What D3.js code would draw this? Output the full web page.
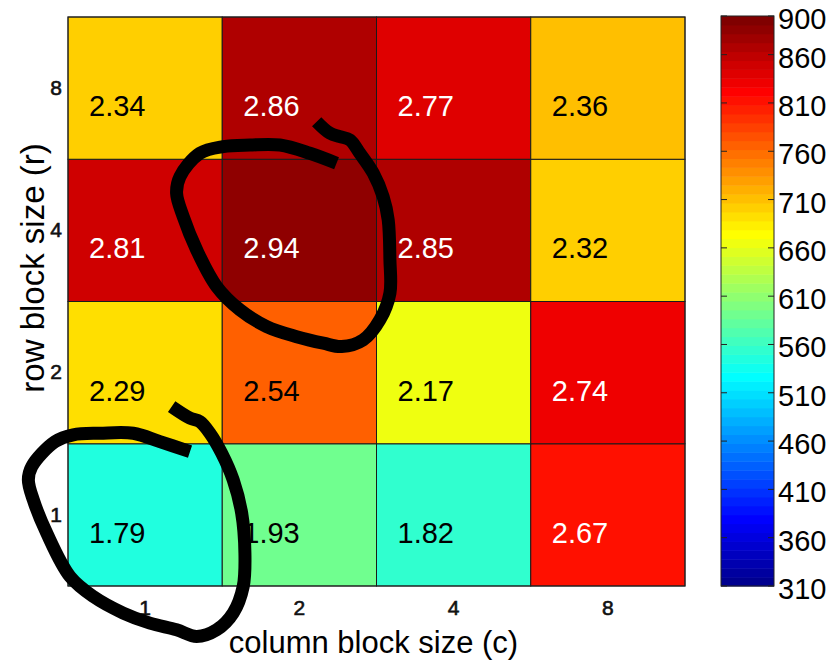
<!DOCTYPE html>
<html>
<head>
<meta charset="utf-8">
<script src="https://cdn.jsdelivr.net/npm/d3@7"></script>
<style>
  body { margin: 0; background: #fff; }
  svg { display: block; font-family: "Liberation Sans", Arial, sans-serif; }
</style>
</head>
<body>
<div id="chart"></div>
<script>
// data
const colSizes = ["1", "2", "4", "8"];
const rowSizes = ["1", "2", "4", "8"];

// speedup printed in each cell, one array per row block size
const speedR1 = [1.79, 1.93, 1.82, 2.67];
const speedR2 = [2.29, 2.54, 2.17, 2.74];
const speedR4 = [2.81, 2.94, 2.85, 2.32];
const speedR8 = [2.34, 2.86, 2.77, 2.36];

// colour value of each cell
const perfR1 = [545, 591, 554, 812];
const perfR2 = [693, 766, 665, 831];
const perfR4 = [849, 886, 867, 700];
const perfR8 = [704, 868, 840, 711];

const colorTicks = [310, 360, 410, 460, 510, 560, 610, 660, 710, 760, 810, 860, 900];
const colorMin = 310;
const colorMax = 900;

// hand drawn marks, in cell units (u: columns from left, v: rows from top)
const scribbleA = [
    [1.741, 1.028], [1.568, 0.958], [1.374, 0.900], [1.180, 0.900], [1.006, 0.911],
    [0.855, 0.958], [0.726, 1.122], [0.704, 1.239], [0.747, 1.403], [0.834, 1.637],
    [0.964, 1.895], [1.115, 2.059], [1.288, 2.176], [1.482, 2.247], [1.655, 2.293],
    [1.774, 2.317], [1.914, 2.270], [2.022, 2.129], [2.087, 1.942], [2.087, 1.708],
    [2.076, 1.427], [2.043, 1.263], [1.979, 1.098], [1.892, 0.958], [1.828, 0.864],
    [1.763, 0.841], [1.698, 0.817], [1.612, 0.736]
];
const scribbleB = [
    [0.791, 3.055], [0.596, 2.985], [0.423, 2.926], [0.207, 2.926], [0.034, 2.937],
    [-0.084, 2.985], [-0.235, 3.160], [-0.257, 3.254], [-0.225, 3.394], [-0.138, 3.628],
    [0.013, 3.933], [0.164, 4.074], [0.358, 4.190], [0.531, 4.261], [0.704, 4.308],
    [0.834, 4.355], [0.964, 4.308], [1.071, 4.190], [1.136, 4.003], [1.147, 3.769],
    [1.126, 3.488], [1.071, 3.254], [0.996, 3.066], [0.920, 2.926], [0.855, 2.844],
    [0.791, 2.820], [0.672, 2.739]
];

const speedRows = [speedR1, speedR2, speedR4, speedR8];
const perfRows = [perfR1, perfR2, perfR4, perfR8];

const cells = [];
rowSizes.forEach((r, i) => {
    colSizes.forEach((c, j) => {
        cells.push({ row: r, col: c, speed: speedRows[i][j], perf: perfRows[i][j] });
    });
});

// matlab jet(64)
const jet64 = (() => {
    const n = 16;
    const u = [];
    for (let j = 1; j <= n; j++) u.push(j / n);
    for (let j = 1; j < n; j++) u.push(1);
    for (let j = n; j >= 1; j--) u.push(j / n);
    const at = j => (j >= 1 && j <= u.length) ? u[j - 1] : 0;
    const out = [];
    for (let k = 1; k <= 64; k++) {
        out.push(d3.rgb(at(k - 24) * 255, at(k - 8) * 255, at(k + 8) * 255).formatHex());
    }
    return out;
})();

const levelOf = v => Math.max(0, Math.min(63, Math.floor((v - colorMin) / (colorMax - colorMin) * 64)));
const colorOf = v => jet64[levelOf(v)];

const width = 839;
const height = 661;
const plot = { left: 68, right: 685, top: 17, bottom: 586 };

const svg = d3.select("#chart")
    .append("svg")
    .attr("width", width)
    .attr("height", height);

const xScale = d3.scaleBand()
    .domain(colSizes)
    .range([plot.left, plot.right]);

const yScale = d3.scaleBand()
    .domain(rowSizes)
    .range([plot.bottom, plot.top]);

// cells
svg.append("g")
    .selectAll("rect")
    .data(cells)
    .join("rect")
    .attr("x", d => xScale(d.col))
    .attr("y", d => yScale(d.row))
    .attr("width", xScale.bandwidth())
    .attr("height", yScale.bandwidth())
    .attr("fill", d => colorOf(d.perf))
    .attr("stroke", "#1a1a1a")
    .attr("stroke-width", 1);

svg.append("g")
    .selectAll("text")
    .data(cells)
    .join("text")
    .attr("x", d => xScale(d.col) + 21)
    .attr("y", d => yScale(d.row) + yScale.bandwidth() / 2 + 28)
    .attr("font-size", 29)
    .attr("fill", d => d.perf > 790 ? "#fff" : "#000")
    .text(d => d.speed.toFixed(2));

svg.append("rect")
    .attr("x", plot.left)
    .attr("y", plot.top)
    .attr("width", plot.right - plot.left)
    .attr("height", plot.bottom - plot.top)
    .attr("fill", "none")
    .attr("stroke", "#222")
    .attr("stroke-width", 1);

// axes
const bottomAxis = d3.axisBottom(xScale).tickSize(0).tickPadding(14);
const gx = svg.append("g")
    .attr("transform", `translate(0, ${plot.bottom})`)
    .call(bottomAxis);
gx.select(".domain").remove();
gx.selectAll("text")
    .attr("font-size", 21)
    .attr("font-family", "Liberation Sans, Arial, sans-serif")
    .attr("fill", "#111")
    .attr("stroke", "#111")
    .attr("stroke-width", 0.6);

const leftAxis = d3.axisLeft(yScale).tickSize(0).tickPadding(6);
const gy = svg.append("g")
    .attr("transform", `translate(${plot.left}, 0)`)
    .call(leftAxis);
gy.select(".domain").remove();
gy.selectAll("text")
    .attr("font-size", 21)
    .attr("font-family", "Liberation Sans, Arial, sans-serif")
    .attr("fill", "#111")
    .attr("stroke", "#111")
    .attr("stroke-width", 0.6);

svg.append("text")
    .attr("x", (plot.left + plot.right) / 2 - 3)
    .attr("y", 653)
    .attr("text-anchor", "middle")
    .attr("font-size", 31)
    .text("column block size (c)");

svg.append("text")
    .attr("transform", `translate(44, 268) rotate(-90)`)
    .attr("text-anchor", "middle")
    .attr("font-size", 33)
    .text("row block size (r)");

// colorbar
const bar = { x: 721, w: 53 };
const cScale = d3.scaleLinear()
    .domain([colorMin, colorMax])
    .range([586, 16]);

const levels = d3.range(64);
svg.append("g")
    .selectAll("rect")
    .data(levels)
    .join("rect")
    .attr("x", bar.x)
    .attr("y", i => cScale(colorMin + (i + 1) * (colorMax - colorMin) / 64))
    .attr("width", bar.w)
    .attr("height", i => cScale(colorMin + i * (colorMax - colorMin) / 64) - cScale(colorMin + (i + 1) * (colorMax - colorMin) / 64) + 0.5)
    .attr("fill", i => jet64[i]);

svg.append("rect")
    .attr("x", bar.x)
    .attr("y", cScale(colorMax))
    .attr("width", bar.w)
    .attr("height", cScale(colorMin) - cScale(colorMax))
    .attr("fill", "none")
    .attr("stroke", "#222")
    .attr("stroke-width", 1);

const tickG = svg.append("g")
    .selectAll("g")
    .data(colorTicks)
    .join("g");

tickG.append("line")
    .attr("x1", bar.x)
    .attr("x2", bar.x + 6)
    .attr("y1", d => cScale(d))
    .attr("y2", d => cScale(d))
    .attr("stroke", "#222");

tickG.append("line")
    .attr("x1", bar.x + bar.w - 6)
    .attr("x2", bar.x + bar.w)
    .attr("y1", d => cScale(d))
    .attr("y2", d => cScale(d))
    .attr("stroke", "#222");

tickG.append("text")
    .attr("x", bar.x + bar.w + 4)
    .attr("y", d => cScale(d) + 13)
    .attr("font-size", 29)
    .text(d => d);

// scribbles
const ux = d3.scaleLinear().domain([0, 4]).range([plot.left, plot.right]);
const vy = d3.scaleLinear().domain([0, 4]).range([plot.top, plot.bottom]);

const scribble = d3.line()
    .x(d => ux(d[0]))
    .y(d => vy(d[1]))
    .curve(d3.curveCatmullRom);

[scribbleA, scribbleB].forEach(pts => {
    svg.append("path")
        .attr("d", scribble(pts))
        .attr("fill", "none")
        .attr("stroke", "#000")
        .attr("stroke-width", 13)
        .attr("stroke-linejoin", "round")
        .attr("stroke-linecap", "butt");
});
</script>
</body>
</html>
